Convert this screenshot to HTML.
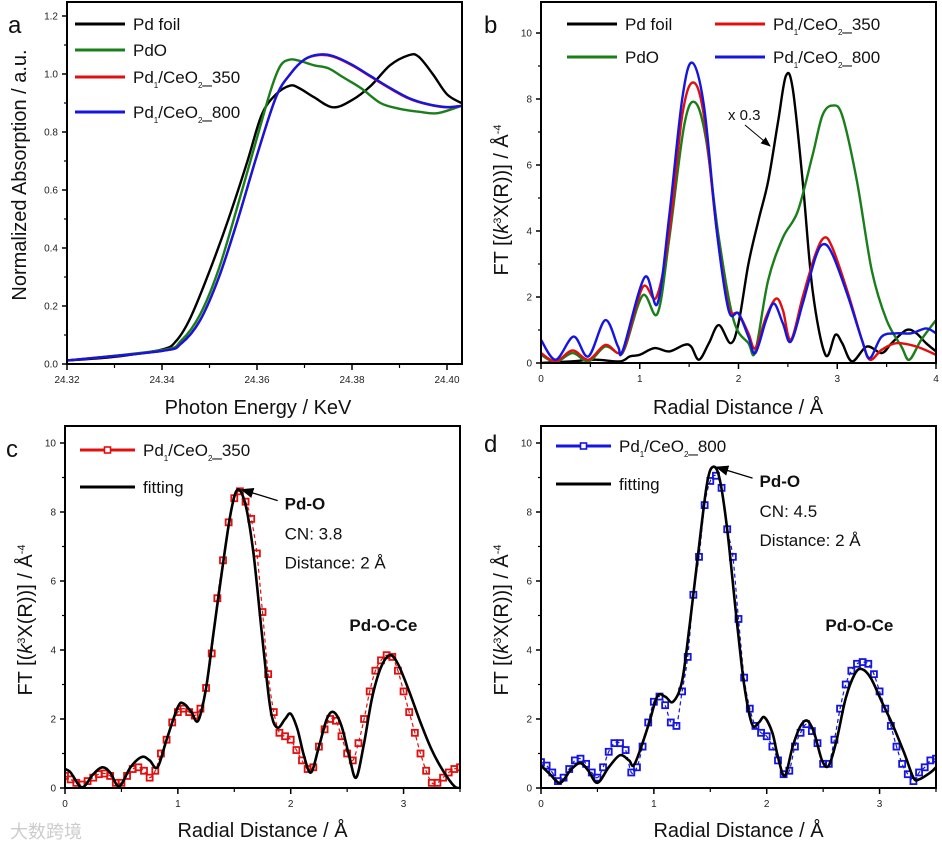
<!DOCTYPE html>
<html><head><meta charset="utf-8"><style>
html,body{margin:0;padding:0;background:#fff;}
svg{display:block;font-family:"Liberation Sans","Noto Sans CJK SC",sans-serif;}
</style></head><body>
<svg id="fig" width="942" height="845" viewBox="0 0 942 845" xmlns="http://www.w3.org/2000/svg">
<defs>
<marker id="arr" markerWidth="10" markerHeight="8" refX="9" refY="4" orient="auto"><path d="M0,0 L10,4 L0,8 z" fill="#000"/></marker>
</defs>
</svg>
<script>
// ---------- Panel a data (XANES) ----------
const aFoilX=[24.32,24.33,24.34,24.343,24.346,24.35,24.354,24.358,24.361,24.364,24.367,24.369,24.372,24.376,24.38,24.384,24.388,24.392,24.394,24.397,24.4,24.403];
const aFoilY=[0.012,0.025,0.05,0.08,0.16,0.32,0.5,0.7,0.86,0.93,0.96,0.95,0.92,0.885,0.91,0.96,1.03,1.065,1.06,1.0,0.93,0.9];
const aPdOX=[24.32,24.34,24.344,24.348,24.352,24.356,24.36,24.363,24.365,24.367,24.369,24.372,24.375,24.378,24.382,24.386,24.39,24.394,24.398,24.403];
const aPdOY=[0.012,0.048,0.08,0.17,0.33,0.55,0.78,0.95,1.03,1.05,1.045,1.03,1.02,0.99,0.95,0.9,0.88,0.87,0.865,0.89];
const aSacX=[24.32,24.34,24.344,24.348,24.352,24.356,24.36,24.364,24.367,24.37,24.373,24.376,24.38,24.384,24.388,24.392,24.396,24.4,24.403];
const a350Y=[0.012,0.045,0.07,0.15,0.3,0.5,0.72,0.92,1.0,1.05,1.065,1.06,1.03,0.99,0.95,0.915,0.895,0.885,0.89];
const a800Y=[0.012,0.045,0.07,0.15,0.3,0.5,0.72,0.92,1.0,1.05,1.067,1.062,1.032,0.992,0.952,0.917,0.896,0.886,0.89];
const aXTicks=["24.32","24.34","24.36","24.38","24.40"];
const aYTicks=["0.0","0.2","0.4","0.6","0.8","1.0","1.2"];
// ---------- Panel b data (FT-EXAFS) ----------
const bFoilX=[0,0.3,0.55,0.8,0.9,1.0,1.15,1.3,1.45,1.52,1.6,1.7,1.8,1.92,2.0,2.1,2.2,2.3,2.4,2.48,2.55,2.65,2.75,2.88,2.98,3.05,3.15,3.3,3.45,3.55,3.7,3.8,3.9,4.0];
const bFoilY=[0,0.05,0.1,0.05,0.2,0.25,0.45,0.35,0.55,0.5,0.1,0.6,1.15,0.6,1.2,3.0,4.3,5.5,7.3,8.7,8.3,5.5,2.2,0.25,0.85,0.6,0.05,0.5,0.3,0.6,1.0,0.9,0.6,0.35];
const bPdOX=[0,0.15,0.32,0.48,0.65,0.78,0.85,1.03,1.18,1.3,1.45,1.56,1.67,1.8,1.95,2.1,2.17,2.3,2.45,2.6,2.75,2.85,2.95,3.05,3.2,3.35,3.5,3.65,3.73,3.85,4.0];
const bPdOY=[0.25,0.03,0.3,0.05,0.5,0.3,0.45,2.05,1.5,3.8,7.2,7.9,6.8,3.8,1.3,0.6,0.35,2.5,3.8,4.6,6.3,7.5,7.8,7.5,5.5,2.8,1.3,0.5,0.1,0.7,1.3];
const b350X=[0,0.15,0.32,0.48,0.65,0.78,0.85,1.03,1.17,1.3,1.43,1.54,1.65,1.78,1.9,2.0,2.1,2.17,2.28,2.38,2.45,2.53,2.65,2.78,2.87,2.95,3.1,3.25,3.33,3.45,3.6,3.8,4.0];
const b350Y=[0.3,0.05,0.38,0.1,0.55,0.3,0.5,2.3,2.0,4.0,7.5,8.5,7.5,4.0,1.7,1.5,0.9,0.45,1.4,1.95,1.6,0.7,2.0,3.3,3.8,3.5,2.2,0.7,0.1,0.4,0.6,0.5,0.25];
const b800X=[0,0.15,0.33,0.48,0.65,0.78,0.83,1.05,1.18,1.3,1.43,1.53,1.65,1.78,1.9,2.0,2.1,2.17,2.28,2.36,2.45,2.53,2.65,2.78,2.86,2.95,3.1,3.25,3.33,3.45,3.6,3.75,3.9,4.0];
const b800Y=[0.7,0.1,0.8,0.2,1.3,0.5,0.4,2.6,1.8,4.5,8.0,9.1,7.8,4.0,1.6,1.5,0.8,0.3,1.3,1.8,1.2,0.65,1.8,3.2,3.6,3.3,2.1,0.7,0.15,0.8,0.9,0.9,1.05,0.9];
const bXTicks=["0","1","2","3","4"];
const bYTicks=["0","2","4","6","8","10"];
// ---------- Panel c data ----------
const cDataX=[0,0.05,0.1,0.15,0.2,0.25,0.3,0.35,0.4,0.45,0.5,0.55,0.6,0.65,0.7,0.75,0.8,0.85,0.9,0.95,1.0,1.05,1.1,1.15,1.2,1.25,1.3,1.35,1.4,1.45,1.5,1.55,1.6,1.65,1.7,1.75,1.8,1.85,1.9,1.95,2.0,2.05,2.1,2.15,2.2,2.25,2.3,2.35,2.4,2.45,2.5,2.55,2.6,2.65,2.7,2.75,2.8,2.85,2.9,2.95,3.0,3.05,3.1,3.15,3.2,3.25,3.3,3.35,3.4,3.45,3.5];
const cDataY=[0.35,0.25,0.15,0.1,0.2,0.3,0.4,0.42,0.35,0.15,0.15,0.35,0.55,0.6,0.5,0.3,0.5,1.0,1.4,1.9,2.2,2.3,2.2,2.1,2.3,2.9,3.9,5.5,6.6,7.7,8.4,8.6,8.3,7.8,6.8,5.1,3.3,2.2,1.6,1.5,1.4,1.1,0.8,0.55,0.6,1.2,1.7,2.0,1.95,1.5,1.0,0.8,1.3,2.0,2.8,3.4,3.7,3.85,3.8,3.4,2.8,2.2,1.6,1.0,0.5,0.15,0.15,0.3,0.45,0.55,0.6];
const cFitX=[0,0.05,0.15,0.25,0.33,0.4,0.48,0.58,0.68,0.75,0.82,0.9,1.0,1.05,1.12,1.18,1.25,1.32,1.4,1.47,1.53,1.6,1.67,1.75,1.82,1.88,1.95,2.0,2.06,2.12,2.18,2.25,2.32,2.38,2.45,2.52,2.58,2.65,2.72,2.8,2.88,2.95,3.05,3.15,3.25,3.35,3.45,3.5];
const cFitY=[0.55,0.45,0.02,0.4,0.6,0.45,0.05,0.6,0.9,0.8,0.6,1.4,2.35,2.45,2.2,1.95,2.9,4.6,6.5,8.0,8.65,8.2,6.8,4.3,2.3,1.75,2.0,2.15,1.7,0.9,0.45,1.2,2.0,2.2,1.8,0.9,0.3,1.3,2.6,3.5,3.85,3.6,2.8,1.9,1.1,0.5,0.05,0.0];
// ---------- Panel d data ----------
const dDataX=[0,0.05,0.1,0.15,0.2,0.25,0.3,0.35,0.4,0.45,0.5,0.55,0.6,0.65,0.7,0.75,0.8,0.85,0.9,0.95,1.0,1.05,1.1,1.15,1.2,1.25,1.3,1.35,1.4,1.45,1.5,1.55,1.6,1.65,1.7,1.75,1.8,1.85,1.9,1.95,2.0,2.05,2.1,2.15,2.2,2.25,2.3,2.35,2.4,2.45,2.5,2.55,2.6,2.65,2.7,2.75,2.8,2.85,2.9,2.95,3.0,3.05,3.1,3.15,3.2,3.25,3.3,3.35,3.4,3.45,3.5];
const dDataY=[0.75,0.65,0.45,0.2,0.3,0.55,0.8,0.85,0.7,0.45,0.3,0.6,1.05,1.3,1.3,1.1,0.45,0.6,1.2,1.9,2.5,2.65,2.4,1.9,1.8,2.8,3.8,5.6,6.7,8.2,8.9,9.05,8.7,7.5,6.7,4.9,3.2,2.3,1.8,1.6,1.5,1.2,0.8,0.4,0.5,1.2,1.6,1.85,1.65,1.3,0.7,0.7,1.4,2.3,3.0,3.4,3.6,3.65,3.6,3.3,2.8,2.3,1.8,1.2,0.7,0.4,0.2,0.45,0.6,0.8,0.85];
const dFitX=[0,0.08,0.17,0.27,0.35,0.42,0.5,0.6,0.7,0.78,0.83,0.95,1.03,1.1,1.17,1.25,1.32,1.4,1.47,1.52,1.58,1.65,1.73,1.8,1.87,1.93,1.98,2.05,2.1,2.16,2.23,2.3,2.36,2.42,2.49,2.55,2.62,2.7,2.78,2.84,2.92,3.02,3.12,3.22,3.3,3.35,3.45,3.5];
const dFitY=[0.65,0.4,0.15,0.55,0.72,0.5,0.15,0.6,0.95,0.8,0.7,1.8,2.65,2.65,2.5,3.1,4.8,7.0,8.8,9.3,9.0,7.5,5.0,3.0,1.85,1.9,2.05,1.6,0.9,0.35,1.2,1.8,1.95,1.6,0.8,0.65,1.4,2.6,3.3,3.45,3.2,2.5,1.8,1.0,0.3,0.25,0.45,0.6];
const cdXTicks=["0","1","2","3"];
const cdYTicks=["0","2","4","6","8","10"];

const NS="http://www.w3.org/2000/svg";
const svg=document.getElementById('fig');
function mk(tag,attrs,parent){const e=document.createElementNS(NS,tag);for(const k in attrs)e.setAttribute(k,attrs[k]);(parent||svg).appendChild(e);return e;}
function scale(d0,d1,r0,r1){return v=>r0+(v-d0)*(r1-r0)/(d1-d0);}
function pathD(xs,ys,sx,sy){
  const p=xs.map((x,i)=>[sx(x),sy(ys[i])]);
  let d="M"+p[0][0].toFixed(1)+","+p[0][1].toFixed(1);
  for(let i=0;i<p.length-1;i++){
    const p0=p[i-1]||p[i],p1=p[i],p2=p[i+1],p3=p[i+2]||p2;
    const c1x=p1[0]+(p2[0]-p0[0])/6,c1y=p1[1]+(p2[1]-p0[1])/6;
    const c2x=p2[0]-(p3[0]-p1[0])/6,c2y=p2[1]-(p3[1]-p1[1])/6;
    d+=" C"+c1x.toFixed(1)+","+c1y.toFixed(1)+" "+c2x.toFixed(1)+","+c2y.toFixed(1)+" "+p2[0].toFixed(1)+","+p2[1].toFixed(1);
  }
  return d;
}
function axes(g,L,R,T,B,sx,sy,xt,yt,xminor,yminor){
  const fr=mk('rect',{x:L,y:T,width:R-L,height:B-T,fill:'none',stroke:'#000','stroke-width':2},g);
  
  
  xt.forEach(t=>{const v=parseFloat(t),x=sx(v);
    mk('line',{x1:x,y1:B,x2:x,y2:B+6,stroke:'#000','stroke-width':1.5},g);
    const tx=mk('text',{x:x,y:B+19,'font-size':10,'text-anchor':'middle',fill:'#222'},g);tx.textContent=t;
    
    
  });
  xminor.forEach(v=>{const x=sx(v);mk('line',{x1:x,y1:B,x2:x,y2:B+4,stroke:'#000','stroke-width':1.2},g);});
  yt.forEach(t=>{const v=parseFloat(t),y=sy(v);
    mk('line',{x1:L,y1:y,x2:L-5,y2:y,stroke:'#000','stroke-width':1.5},g);
    const ty=mk('text',{x:L-9,y:y+3.5,'font-size':10,'text-anchor':'end',fill:'#222'},g);ty.textContent=t;
    
    
  });
  yminor.forEach(v=>{const y=sy(v);mk('line',{x1:L,y1:y,x2:L-3,y2:y,stroke:'#000','stroke-width':1.2},g);});
}
function series(g,xs,ys,sx,sy,color,name,w){
  const p=mk('path',{d:pathD(xs,ys,sx,sy),fill:'none',stroke:color,'stroke-width':w||2.4,'stroke-linejoin':'round'},g);
  
  
  return p;
}
function markers(g,xs,ys,sx,sy,color,name){
  const gg=mk('g',{},g);
  
  
  xs.forEach((x,i)=>{mk('rect',{x:sx(x)-3,y:sy(ys[i])-3,width:6,height:6,fill:'none',stroke:color,'stroke-width':1.8},gg);});
}
function text(g,x,y,html,size,name,opts){
  const t=mk('text',Object.assign({x:x,y:y,'font-size':size,fill:'#111'},opts||{}),g);
  t.innerHTML=html;
  
  
  return t;
}
function legendLine(g,x1,x2,y,color,label,name,marker){
  const lg=mk('g',{},g);
  
  
  mk('line',{x1:x1,y1:y,x2:x2,y2:y,stroke:color,'stroke-width':3},lg);
  if(marker){mk('rect',{x:(x1+x2)/2-3,y:y-3,width:6,height:6,fill:'#fff',stroke:color,'stroke-width':1.6},lg);}
  const t=mk('text',{x:x2+8,y:y+6,'font-size':17,fill:'#111'},lg);t.innerHTML=label;
}
const SAC350='Pd<tspan font-size="8" dy="5">1</tspan><tspan dy="-5">/CeO</tspan><tspan font-size="8" dy="5">2</tspan><tspan dy="-5">_350</tspan>';
const SAC800='Pd<tspan font-size="8" dy="5">1</tspan><tspan dy="-5">/CeO</tspan><tspan font-size="8" dy="5">2</tspan><tspan dy="-5">_800</tspan>';
const FTY='FT [(<tspan font-style="italic">k</tspan><tspan font-size="11" dy="-7">3</tspan><tspan dy="7">X(R))] / Å</tspan><tspan font-size="11" dy="-7">-4</tspan>';
function range(a,b,s){const r=[];for(let v=a;v<=b+1e-9;v+=s)r.push(+v.toFixed(4));return r;}

// ===== Panel a =====
(function(){
  const g=mk('g',{});
  const L=67,R=462,T=2,B=364;
  const sx=scale(24.32,24.40,67,447),sy=scale(0,1.2,364,16);
  const cp=mk('clipPath',{id:'ca'},g);mk('rect',{x:L,y:T,width:R-L,height:B-T},cp);
  const sg=mk('g',{'clip-path':'url(#ca)'},g);
  series(sg,aFoilX,aFoilY,sx,sy,'#000','pd-foil-line');
  series(sg,aPdOX,aPdOY,sx,sy,'#1a7f1a','pdo-line');
  series(sg,aSacX,a350Y,sx,sy,'#e01010','pd1-ceo2-350-line');
  series(sg,aSacX,a800Y,sx,sy,'#1515e0','pd1-ceo2-800-line');
  axes(g,L,R,T,B,sx,sy,aXTicks,aYTicks,range(24.33,24.39,0.02),range(0.1,1.1,0.2));
  legendLine(g,75,125,24,'#000','Pd foil','legend-pd-foil');
  legendLine(g,75,125,50,'#1a7f1a','PdO','legend-pdo');
  legendLine(g,75,125,77,'#e01010',SAC350,'legend-pd1-ceo2-350');
  legendLine(g,75,125,112,'#1515e0',SAC800,'legend-pd1-ceo2-800');
  text(g,8,33,'a',24,'panel-label-a');
  text(g,258,414,'Photon Energy / KeV',20,'x-axis-title-a',{'text-anchor':'middle'});
  text(g,0,0,'Normalized Absorption / a.u.',20,'y-axis-title-a',{'text-anchor':'middle',transform:'translate(26,175) rotate(-90)'});
})();
// ===== Panel b =====
(function(){
  const g=mk('g',{});
  const L=541,R=936,T=2,B=363;
  const sx=scale(0,4,541,936),sy=scale(0,10,363,33);
  const cp=mk('clipPath',{id:'cb'},g);mk('rect',{x:L,y:T,width:R-L,height:B-T},cp);
  const sg=mk('g',{'clip-path':'url(#cb)'},g);
  series(sg,bFoilX,bFoilY,sx,sy,'#000','pd-foil-ft-line');
  series(sg,bPdOX,bPdOY,sx,sy,'#1a7f1a','pdo-ft-line');
  series(sg,b350X,b350Y,sx,sy,'#e01010','pd1-ceo2-350-ft-line');
  series(sg,b800X,b800Y,sx,sy,'#1515e0','pd1-ceo2-800-ft-line');
  axes(g,L,R,T,B,sx,sy,bXTicks,bYTicks,range(0.5,3.5,1),range(1,9,2));
  legendLine(g,567,617,24,'#000','Pd foil','legend-b-pd-foil');
  legendLine(g,567,617,57,'#1a7f1a','PdO','legend-b-pdo');
  legendLine(g,715,765,24,'#e01010',SAC350,'legend-b-pd1-ceo2-350');
  legendLine(g,715,765,57,'#1515e0',SAC800,'legend-b-pd1-ceo2-800');
  text(g,728,120,'x 0.3',15,'scale-annotation');
  const ar=mk('line',{x1:745,y1:125,x2:770,y2:146,stroke:'#000','stroke-width':1,'marker-end':'url(#arr)'},g);
  
  text(g,484,33,'b',24,'panel-label-b');
  text(g,738,414,'Radial Distance / Å',20,'x-axis-title-b',{'text-anchor':'middle'});
  text(g,0,0,FTY,20,'y-axis-title-b',{'text-anchor':'middle',transform:'translate(508,200) rotate(-90)'});
})();
// ===== Panels c, d =====
function fitPanel(id,L,R,dX,dY,fX,fY,color,label,cn,peakX,peakY,lbl){
  const T=426,B=788;
  const g=mk('g',{});
  const sx=scale(0,3.5,L,R),sy=scale(0,10,788,443);
  const cp=mk('clipPath',{id:'c'+id},g);mk('rect',{x:L,y:T,width:R-L,height:B-T},cp);
  const sg=mk('g',{'clip-path':'url(#c'+id+')'},g);
  series(sg,dX,dY,sx,sy,color,'data-line-'+id,1.2).setAttribute('stroke-dasharray','4 3');
  markers(sg,dX,dY,sx,sy,color,'data-markers-'+id);
  series(sg,fX,fY,sx,sy,'#000','fitting-line-'+id,2.6);
  axes(g,L,R,T,B,sx,sy,cdXTicks,cdYTicks,range(0.5,3.5,1),range(1,9,2));
  legendLine(g,L+15,L+70,446+(id==='c'?4:0),color,label,'legend-data-'+id,true);
  legendLine(g,L+15,L+70,484+(id==='c'?3:0),'#000','fitting','legend-fitting-'+id);
  const px=sx(peakX),py=sy(peakY);
  const ar=mk('line',{x1:px+40,y1:py+11,x2:px+4,y2:py,stroke:'#000','stroke-width':1.3,'marker-end':'url(#arr)'},g);
  
  text(g,px+47,py+20,'Pd-O',17,'pd-o-label-'+id,{'font-weight':'bold'});
  text(g,px+47,py+50,'CN: '+cn,17,'cn-label-'+id);
  text(g,px+47,py+79,'Distance: 2 Å',17,'distance-label-'+id);
  text(g,sx(2.52),sy(4.55),'Pd-O-Ce',17,'pd-o-ce-label-'+id,{'font-weight':'bold'});
  text(g,lbl,id==='c'?457:452,id,24,'panel-label-'+id);
  text(g,(L+R)/2,837,'Radial Distance / Å',20,'x-axis-title-'+id,{'text-anchor':'middle'});
  text(g,0,0,FTY,20,'y-axis-title-'+id,{'text-anchor':'middle',transform:'translate('+(L-33)+',620) rotate(-90)'});
}
fitPanel('c',65,460,cDataX,cDataY,cFitX,cFitY,'#e01010',SAC350,'3.8',1.53,8.65,6);
fitPanel('d',541,936,dDataX,dDataY,dFitX,dFitY,'#1515e0',SAC800,'4.5',1.52,9.3,484);
const wm=text(svg,10,838,'大数跨境',18,'watermark',{fill:'#ccc'});
</script>
</body></html>
